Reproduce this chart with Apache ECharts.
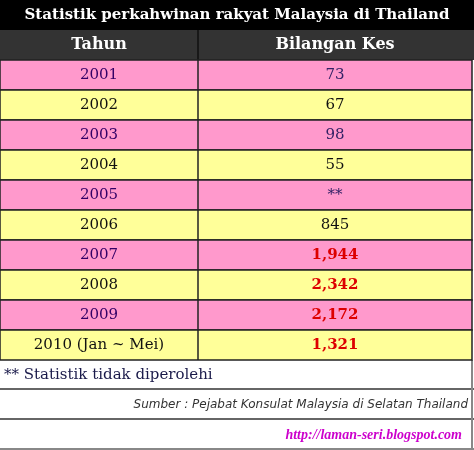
<!DOCTYPE html>
<html><head><meta charset="utf-8">
<script src="https://cdn.jsdelivr.net/npm/echarts@6/dist/echarts.min.js"></script>
<style>html,body{margin:0;padding:0;background:#fff}#c{width:474px;height:450px}</style>
</head><body><div id="c"></div>
<script>
var years = ['2001','2002','2003','2004','2005','2006','2007','2008','2009','2010 (Jan ~ Mei)'];
var kes = ['73','67','98','55','**','845','1,944','2,342','2,172','1,321'];
var highlight = [false,false,false,false,false,false,true,true,true,true];
var headers = ['Tahun','Bilangan Kes'];

var colX = [0, 198, 472];
var F = '"DejaVu Serif"';
var chart = echarts.init(document.getElementById('c'));
var rows = years.map(function(y,i){return [i, y, kes[i], highlight[i]?1:0];});
chart.setOption({
  animation:false,
  grid:{left:0,right:0,top:60,bottom:90},
  xAxis:{type:'value',min:0,max:474,show:false},
  yAxis:{type:'category',data:years,inverse:true,show:false},
  series:[{
    type:'custom',
    data:rows,
    renderItem:function(params,api){
      var i=api.value(0);
      var c=api.coord([0,i]); var h=api.size([0,1])[1];
      var top=c[1]-h/2;
      var bg = i%2===0?'#ff99cc':'#ffff99';
      var hl = rows[i][3];
      var yearCol = i%2===0?'#330066':'#111';
      var kesCol = hl?'#dd0000':(i%2===0?'#332266':'#111');
      return {type:'group',children:[
        {type:'rect',shape:{x:0,y:top,width:472,height:h},style:{fill:bg,stroke:'#222',lineWidth:1.5}},
        {type:'line',shape:{x1:colX[1],y1:top,x2:colX[1],y2:top+h},style:{stroke:'#222',lineWidth:1.5}},
        {type:'text',x:(colX[0]+colX[1])/2,y:c[1],style:{text:rows[i][1],fill:yearCol,font:'15px '+F,align:'center',verticalAlign:'middle'}},
        {type:'text',x:(colX[1]+colX[2])/2,y:c[1],style:{text:rows[i][2],fill:kesCol,font:(hl?'bold ':'')+'15px '+F,align:'center',verticalAlign:'middle'}}
      ]};
    }
  }],
  graphic:[
    {type:'rect',shape:{x:0,y:0,width:474,height:30},style:{fill:'#000'}},
    {type:'text',x:237,y:15,style:{text:'Statistik perkahwinan rakyat Malaysia di Thailand',fill:'#fff',font:'bold 15px '+F,align:'center',verticalAlign:'middle'}},
    {type:'rect',shape:{x:0,y:30,width:474,height:30},style:{fill:'#333'}},
    {type:'line',shape:{x1:198,y1:30,x2:198,y2:60},style:{stroke:'#111',lineWidth:1.5}},
    {type:'text',x:99,y:45,style:{text:headers[0],fill:'#fff',font:'bold 16px '+F,align:'center',verticalAlign:'middle'}},
    {type:'text',x:335,y:45,style:{text:headers[1],fill:'#fff',font:'bold 16px '+F,align:'center',verticalAlign:'middle'}},
    {type:'line',shape:{x1:0,y1:389,x2:474,y2:389},style:{stroke:'#333',lineWidth:1.5}},
    {type:'line',shape:{x1:0,y1:419,x2:474,y2:419},style:{stroke:'#333',lineWidth:1.5}},
    {type:'line',shape:{x1:472,y1:360,x2:472,y2:450},style:{stroke:'#888',lineWidth:2}},
    {type:'line',shape:{x1:0,y1:449,x2:474,y2:449},style:{stroke:'#888',lineWidth:2}},
    {type:'text',x:4,y:375,style:{text:'** Statistik tidak diperolehi',fill:'#1a1a4a',font:'15px '+F,verticalAlign:'middle'}},
    {type:'text',x:468,y:405,style:{text:'Sumber : Pejabat Konsulat Malaysia di Selatan Thailand',fill:'#333',font:'italic 12px "DejaVu Sans"',align:'right',verticalAlign:'middle'}},
    {type:'text',x:462,y:435,style:{text:'http://laman-seri.blogspot.com',fill:'#cc00cc',font:'bold italic 14px "Liberation Serif"',align:'right',verticalAlign:'middle'}}
  ]
});
</script></body></html>
